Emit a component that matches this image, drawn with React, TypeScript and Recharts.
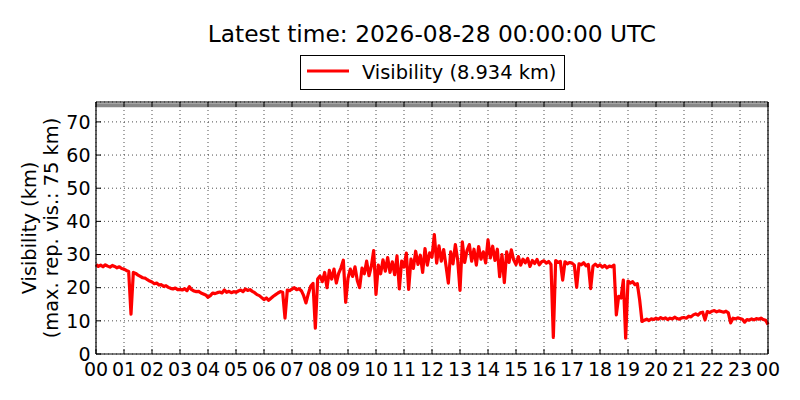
import { CartesianGrid, Label, Legend, Line, LineChart, ReferenceLine, XAxis, YAxis } from "recharts";

const hourTicks = [0, 1, 2, 3, 4, 5, 6, 7, 8, 9, 10, 11, 12, 13, 14, 15, 16, 17, 18, 19, 20, 21, 22, 23, 24];
const visibilityTicks = [0, 10, 20, 30, 40, 50, 60, 70];
const maxReportedVisibility = 75;
const latestVisibility = 8.934;
const latestTime = "2026-08-28 00:00:00 UTC";

// visibility in km, 5-minute samples, one row per hour starting at 00:00
const visibility = [
  27.0, 26.4, 26.8, 26.3, 26.9, 26.5, 26.2, 26.7, 26.4, 26.0, 26.3, 25.8,
  25.6, 25.2, 24.9, 12.0, 24.6, 24.3, 23.8, 23.4, 23.0, 22.9, 22.4, 22.0,
  21.7, 21.2, 21.4, 20.8, 20.9, 20.4, 20.6, 20.1, 19.8, 19.6, 19.9, 19.4,
  19.5, 19.3, 19.7, 19.1, 20.3, 19.4, 19.0, 18.8, 18.9, 18.4, 18.1, 17.8,
  17.1, 17.6, 18.4, 18.2, 18.5, 18.7, 18.4, 19.3, 18.6, 18.9, 18.5, 18.8,
  18.6, 19.0, 19.3, 18.8, 19.6, 19.2, 19.4, 18.9, 18.5, 17.9, 17.6, 17.0,
  16.4, 16.9, 16.2, 16.8, 17.4, 17.9, 18.4, 18.8, 18.6, 10.8, 19.3, 19.1,
  19.6, 20.0, 19.4, 19.7, 19.1, 17.6, 15.4, 18.2, 20.4, 21.3, 7.8, 22.6,
  23.5, 21.8, 24.6, 20.0, 25.2, 22.6, 25.6, 21.4, 24.3, 26.0, 28.3, 15.6,
  22.8, 25.6, 23.4, 26.3, 22.1, 20.0, 25.9, 24.2, 28.0, 23.6, 26.4, 31.2,
  18.0, 26.8, 24.2, 28.4, 25.0, 29.1, 24.6, 27.8, 23.9, 29.6, 19.6, 28.0,
  26.2, 30.4, 19.5, 28.6, 25.8, 31.0, 27.0, 29.8, 24.6, 31.8, 26.8, 30.5,
  29.2, 36.0, 27.4, 32.6, 28.0, 31.5, 26.6, 21.4, 30.8, 27.2, 33.0, 28.4,
  19.2, 33.8, 27.6, 31.2, 33.0, 28.0, 31.6, 26.8, 32.4, 28.6, 30.8, 27.5,
  34.4, 29.0, 32.5, 28.2, 31.6, 23.3, 30.0, 21.5, 30.8, 27.6, 31.4, 28.4,
  27.0, 29.4, 26.8, 28.6, 27.5, 28.8, 26.4, 28.2, 27.3, 28.5, 26.9, 27.8,
  28.1, 27.4, 27.9, 27.0, 5.0, 28.2, 27.6, 27.9, 22.3, 27.8, 27.2, 27.6,
  27.4, 26.8, 20.1, 27.2, 26.9, 27.5, 26.6, 27.0, 19.7, 26.5, 27.1, 26.4,
  26.9, 26.2, 26.7, 26.0, 26.5, 26.3, 26.8, 11.8, 17.4, 16.9, 22.3, 4.8,
  22.0, 21.4, 21.8, 20.9, 21.2, 16.3, 9.8, 10.2, 10.5, 10.1, 10.6, 10.4,
  10.8, 10.5, 11.0, 10.6, 10.9, 10.4, 10.8, 10.6, 11.1, 10.7, 10.5, 10.9,
  11.0, 10.8, 11.4, 11.2, 11.8, 12.1, 11.7, 12.4, 12.6, 10.3, 12.8, 12.5,
  12.9, 13.1, 12.7, 13.0, 12.8, 12.6, 12.9, 12.4, 9.4, 10.8, 10.6, 10.9,
  10.7, 10.5, 9.6, 10.4, 10.2, 10.6, 10.3, 10.7, 10.5, 10.8, 10.4, 10.2,
];
const midnightSample = 8.9;

const samples = [...visibility, midnightSample].map((vis, i) => ({ hour: i / 12, vis }));

const font = "'DejaVu Sans', sans-serif";
const hourLabel = (h: number) => String(h % 24).padStart(2, "0");
const noTick = () => <g />;

const VisLegend = () => (
  <svg width={265} height={35} style={{ display: "block" }}>
    <rect x={0.5} y={0.5} width={264} height={34} fill="#fff" stroke="#000" />
    <line x1={7} x2={49} y1={16} y2={16} stroke="#ff0000" strokeWidth={2.8} />
    <text x={62} y={23.5} fontSize={19.4} fontFamily={font} fill="#000">
      Visibility ({latestVisibility} km)
    </text>
  </svg>
);

const YTitle = (props: any) => {
  const vb = props.viewBox || { y: 102, height: 252 };
  const cy = vb.y + vb.height / 2;
  return (
    <g fontSize={19.4} fontFamily={font} fill="#000">
      <text transform="rotate(-90)" x={-cy} y={36} textAnchor="middle">Visibility (km)</text>
      <text transform="rotate(-90)" x={-cy} y={57.7} textAnchor="middle">
        (max. rep. vis.: {maxReportedVisibility} km)
      </text>
    </g>
  );
};

export default function App() {
  return (
    <div style={{ position: "fixed", left: 0, top: 0, width: 800, height: 400, background: "#fff", fontFamily: font }}>
      <LineChart width={800} height={400} data={samples} margin={{ top: 101, right: 31, bottom: 6, left: 36 }}>
        <CartesianGrid stroke="#000" strokeWidth={0.7} strokeDasharray="1 3" />
        <XAxis
          dataKey="hour"
          type="number"
          domain={[0, 24]}
          ticks={hourTicks}
          interval={0}
          tickFormatter={hourLabel}
          tickSize={-5}
          tickMargin={13.5}
          height={40}
          axisLine={{ stroke: "#000", strokeWidth: 1.2 }}
          tickLine={{ stroke: "#000" }}
          tick={{ fill: "#000", fontSize: 19, fontFamily: font }}
        />
        <XAxis
          xAxisId="top"
          dataKey="hour"
          orientation="top"
          type="number"
          domain={[0, 24]}
          ticks={hourTicks}
          interval={0}
          tickSize={-5}
          height={1}
          axisLine={{ stroke: "#000", strokeWidth: 1.2 }}
          tickLine={{ stroke: "#000" }}
          tick={noTick}
        />
        <YAxis
          type="number"
          domain={[0, 76]}
          ticks={visibilityTicks}
          interval={0}
          tickSize={-5}
          tickMargin={10.5}
          width={60}
          axisLine={{ stroke: "#000", strokeWidth: 1.2 }}
          tickLine={{ stroke: "#000" }}
          tick={{ fill: "#000", fontSize: 19, fontFamily: font }}
        >
          <Label content={YTitle} />
        </YAxis>
        <YAxis
          yAxisId="right"
          orientation="right"
          type="number"
          domain={[0, 76]}
          ticks={visibilityTicks}
          interval={0}
          tickSize={-5}
          width={1}
          axisLine={{ stroke: "#000", strokeWidth: 1.2 }}
          tickLine={{ stroke: "#000" }}
          tick={noTick}
        />
        <ReferenceLine y={maxReportedVisibility} stroke="#888" strokeWidth={4} />
        <Line
          type="linear"
          dataKey="vis"
          stroke="#ff0000"
          strokeWidth={3.2}
          strokeLinejoin="round"
          dot={false}
          isAnimationActive={false}
        />
        <Legend
          layout="horizontal"
          verticalAlign="middle"
          align="center"
          content={VisLegend}
          wrapperStyle={{ position: "absolute", left: 300, top: 55, width: 265, height: 35 }}
        />
      </LineChart>
      <svg width={800} height={60} style={{ position: "absolute", left: 0, top: 0, pointerEvents: "none" }}>
        <text x={432} y={42} textAnchor="middle" fontSize={23.3} fontFamily={font} fill="#000">
          Latest time: {latestTime}
        </text>
      </svg>
    </div>
  );
}
